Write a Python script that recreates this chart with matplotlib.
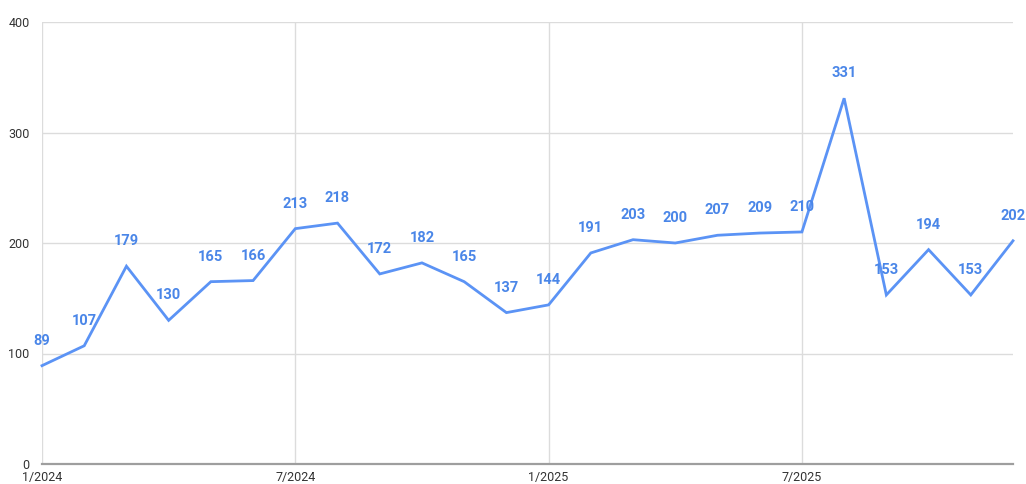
import matplotlib
matplotlib.use("Agg")
import matplotlib.pyplot as plt

plt.rcParams["font.family"] = ["Roboto", "DejaVu Sans"]

months = ["1/2024", "2/2024", "3/2024", "4/2024", "5/2024", "6/2024",
          "7/2024", "8/2024", "9/2024", "10/2024", "11/2024", "12/2024",
          "1/2025", "2/2025", "3/2025", "4/2025", "5/2025", "6/2025",
          "7/2025", "8/2025", "9/2025", "10/2025", "11/2025", "12/2025"]
values = [89, 107, 179, 130, 165, 166, 213, 218, 172, 182, 165, 137,
          144, 191, 203, 200, 207, 209, 210, 331, 153, 194, 153, 202]
tick_labels = ["1/2024", "7/2024", "1/2025", "7/2025"]
y_ticks = [0, 100, 200, 300, 400]

line_color = "#5b93f5"
label_color = "#4a86e8"

fig = plt.figure(figsize=(10.26, 4.84), dpi=100)
ax = fig.add_axes([42/1026, 20/484, (1013-42)/1026, (464-22)/484])

x = list(range(len(values)))
ax.plot(x, values, color=line_color, lw=2, solid_joinstyle="miter", zorder=3, clip_on=False)

for xi, v in zip(x, values):
    ax.annotate(str(v), (xi, v), xytext=(0, 13), textcoords="offset points",
                ha="center", va="bottom", color=label_color, fontsize=10.5,
                fontweight="bold", zorder=4, annotation_clip=False)

ax.set_xlim(0, len(values) - 1)
ax.set_ylim(0, 400)
tick_pos = [months.index(t) for t in tick_labels]
ax.set_xticks(tick_pos)
ax.set_xticklabels(tick_labels)
ax.set_yticks(y_ticks)
ax.set_yticklabels([str(t) for t in y_ticks])

ax.grid(True, color="#dcdcdc", lw=1)
ax.set_axisbelow(True)
for s in ["top", "right", "left"]:
    ax.spines[s].set_visible(False)
ax.spines["bottom"].set_color("#9e9e9e")
ax.spines["bottom"].set_linewidth(1.6)
ax.tick_params(axis="both", length=0, labelsize=9, labelcolor="#333333")
ax.tick_params(axis="y", pad=9)
ax.tick_params(axis="x", pad=5)

fig.savefig("out.png", dpi=100)
